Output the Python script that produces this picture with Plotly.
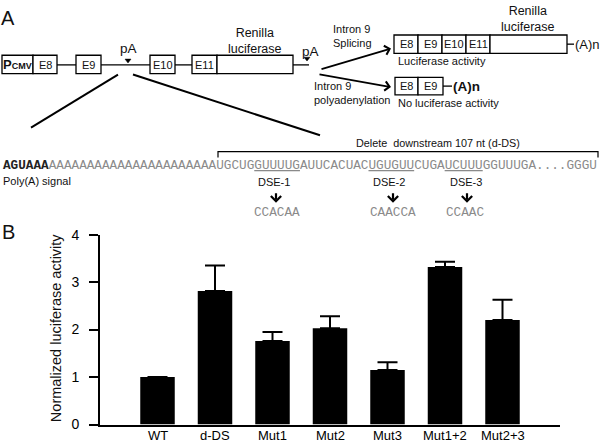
import plotly.graph_objects as go

# ---------------- data (panel B) ----------------
categories = ["WT", "d-DS", "Mut1", "Mut2", "Mut3", "Mut1+2", "Mut2+3"]
activity = [1.0, 2.81, 1.76, 2.03, 1.15, 3.32, 2.20]
activity_err = [0.0, 0.54, 0.19, 0.25, 0.16, 0.11, 0.43]
y_ticks = [0, 1, 2, 3, 4]

# ---------------- text content (panel A) ----------------
construct_exons = ["E8", "E9", "E10", "E11"]
spliced_exons = ["E8", "E9", "E10", "E11"]
polyA_exons = ["E8", "E9"]
polyA_signal = "AGUAAA"
seq_parts = ["A" * 22 + "U", "GCUG", "GUUUUG", "AUUCACUAC", "UGUGUU", "CUGA", "UCUUU", "GGUUUGA....GGGU"]
dse_labels = ["DSE-1", "DSE-2", "DSE-3"]
dse_mutations = ["CCACAA", "CAACCA", "CCAAC"]

W, H = 600, 448
SANS = "Arial, 'Liberation Sans', sans-serif"
MONO = "'Liberation Mono', 'Courier New', monospace"


def X(x):
    return x / W


def Y(y):
    return 1 - y / H


shapes = []
annotations = []


def rect(x0, y0, x1, y1, w=1.3):
    shapes.append(dict(type="rect", xref="paper", yref="paper", x0=X(x0), x1=X(x1),
                       y0=Y(y1), y1=Y(y0), line=dict(color="black", width=w),
                       fillcolor="white", layer="above"))


def line(x0, y0, x1, y1, w=1.3):
    shapes.append(dict(type="line", xref="paper", yref="paper", x0=X(x0), x1=X(x1),
                       y0=Y(y0), y1=Y(y1), line=dict(color="black", width=w), layer="above"))


def tri(x, y):
    shapes.append(dict(type="path", xref="paper", yref="paper",
                       path=f"M{X(x-3)},{Y(y)} L{X(x+3)},{Y(y)} L{X(x)},{Y(y+4)} Z",
                       fillcolor="black", line=dict(color="black", width=0.5), layer="above"))


def text(t, x, y, size=12, xanchor="center", family=SANS, color="#111", align="center", angle=0):
    annotations.append(dict(text=t, x=X(x), y=Y(y), xref="paper", yref="paper",
                            showarrow=False, xanchor=xanchor, yanchor="middle",
                            font=dict(size=size, family=family, color=color),
                            align=align, textangle=angle, borderpad=0))


def arrow(hx, hy, tx, ty, w=1.8, head=4, size=1.0):
    annotations.append(dict(text="", x=X(hx), y=Y(hy), xref="paper", yref="paper",
                            showarrow=True, ax=tx - hx, ay=ty - hy, arrowhead=head,
                            arrowsize=size, arrowwidth=w, arrowcolor="black", standoff=0))


# ---------------- panel A: construct ----------------
text("A", 8, 10, size=20)
rect(2, 49, 33, 68)
text("<b>P<span style='font-size:9px'>CMV</span></b>", 17.5, 59, size=13)
ex_x = [(33, 57), (76, 101), (150, 175), (192, 217)]
for lab, (a, b) in zip(construct_exons, ex_x):
    rect(a, 49, b, 68)
    text(lab, (a + b) / 2, 59, size=11)
rect(217, 49, 293, 68)
line(57, 59, 76, 59)
line(101, 59, 150, 59)
line(175, 59, 192, 59)
line(293, 59, 309, 59)
text("pA", 128, 42, size=13.5)
tri(128, 53)
text("pA", 310, 45, size=13.5)
tri(307, 51)
text("Renilla<br>luciferase", 255, 34, size=12.5)

# expansion lines
line(118, 69, 31, 124, w=2)
line(133, 69, 320, 132, w=2)

# processing arrows
arrow(391, 42, 320, 63)
arrow(391, 82, 318, 69)
text("Intron 9<br>Splicing", 332, 29, size=11, xanchor="left", align="left")
text("Intron 9<br>polyadenylation", 313, 88, size=11, xanchor="left", align="left")

# spliced transcript
sp_x = [(394, 418), (418, 442), (442, 466), (466, 490)]
for lab, (a, b) in zip(spliced_exons, sp_x):
    rect(a, 28, b, 47)
    text(lab, (a + b) / 2, 37.5, size=11)
rect(490, 28, 567, 47)
line(567, 37.5, 574, 37.5)
text("(A)n", 574, 37.5, size=13, xanchor="left")
text("Renilla<br>luciferase", 528, 11, size=12.5)
text("Luciferase activity", 397, 55, size=11, xanchor="left")

# polyadenylated transcript
pa_x = [(395, 418), (418, 443)]
for lab, (a, b) in zip(polyA_exons, pa_x):
    rect(a, 72, b, 90)
    text(lab, (a + b) / 2, 81, size=11)
line(443, 81, 452, 81)
text("<b>(A)n</b>", 452, 81, size=13.5, xanchor="left")
text("No luciferase activity", 397, 99, size=11, xanchor="left")

# sequence
seq_html = (f"<span style='color:#222'><b>{polyA_signal}</b></span>"
            f"{seq_parts[0]}{seq_parts[1]}<u>{seq_parts[2]}</u>{seq_parts[3]}"
            f"<u>{seq_parts[4]}</u>{seq_parts[5]}<u>{seq_parts[6]}</u>{seq_parts[7]}")
annotations.append(dict(text=seq_html, x=X(2), y=Y(163), xref="paper", yref="paper",
                        showarrow=False, xanchor="left", yanchor="middle", borderpad=0,
                        font=dict(size=12.7, family=MONO, color="#8a8a8a")))
text("Poly(A) signal", 2, 179, size=11, xanchor="left")

# delete bracket
shapes.append(dict(type="path", xref="paper", yref="paper",
                   path=f"M{X(218)},{Y(155)} L{X(218)},{Y(149)} L{X(598)},{Y(149)} L{X(598)},{Y(155)}",
                   line=dict(color="black", width=1.2)))
text("Delete  downstream 107 nt (d-DS)", 438, 140, size=10.8)

dse_lab_x = [274, 389, 466]
dse_arrow_x = [276, 393, 467]
dse_mut_x = [277, 393, 465]
for lab, lx, axx, mx, mut in zip(dse_labels, dse_lab_x, dse_arrow_x, dse_mut_x, dse_mutations):
    text(lab, lx, 180, size=11)
    arrow(axx, 202, axx, 191, w=2.2, head=4, size=0.9)
    text(mut, mx, 212, size=12.7, family=MONO, color="#8a8a8a")

# ---------------- panel B: bar chart ----------------
text("B", 8, 232, size=20)
text("Normalized luciferase activity", 56, 332, size=14.5, angle=-90)
for cat in categories:
    annotations.append(dict(text=cat, x=cat, y=Y(443), xref="x", yref="paper",
                            showarrow=False, xanchor="center", yanchor="middle", borderpad=0,
                            font=dict(size=13, family=SANS, color="black")))

fig = go.Figure()
fig.add_trace(go.Bar(
    x=categories, y=activity, width=0.6,
    marker=dict(color="black", line=dict(width=0)),
    error_y=dict(type="data", symmetric=False, array=activity_err,
                 arrayminus=[0] * len(activity_err), color="black", thickness=2, width=10),
))

fig.update_layout(
    width=W, height=H, autosize=False,
    margin=dict(l=0, r=0, t=0, b=0),
    paper_bgcolor="white", plot_bgcolor="white",
    showlegend=False,
    shapes=shapes, annotations=annotations,
    font=dict(family=SANS, color="black"),
    xaxis=dict(domain=[X(100), X(560)], range=[-1, 7], showline=True, linewidth=2,
               linecolor="black", ticks="", showgrid=False, zeroline=False,
               showticklabels=False),
    yaxis=dict(domain=[Y(432), Y(235)], range=[0, 4], tickvals=y_ticks, showline=True,
               linewidth=2, linecolor="black", ticks="outside", ticklen=9, tickwidth=2,
               tickcolor="black", showgrid=False, zeroline=False, ticklabelstandoff=7,
               tickfont=dict(size=14, family=SANS, color="black")),
)

fig.write_html("out.html", config={"displayModeBar": False},
               post_script="document.body.style.margin='0';document.body.style.overflow='hidden';")
